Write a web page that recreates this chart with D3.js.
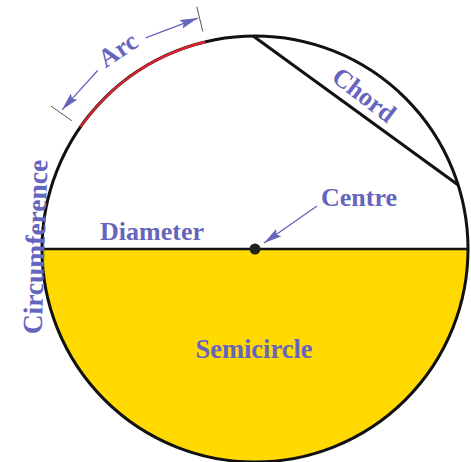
<!DOCTYPE html>
<html>
<head>
<meta charset="utf-8">
<script src="https://cdn.jsdelivr.net/npm/d3@7"></script>
<style>
  body { margin: 0; background: #fff; }
  text { font-family: "Liberation Serif", "Times New Roman", serif; font-weight: bold; fill: #6565bd; }
</style>
</head>
<body>
<div id="chart"></div>
<script>
// circle parts, angles in degrees (d3 convention: 0 = 12 o'clock, clockwise)
const labels = ["Arc", "Chord", "Circumference", "Diameter", "Centre", "Semicircle"];
const semicircleAngles = [90, 270];
const diameterAngles = [-90, 90];
const arcAngles = [-55, -13.5];
const chordAngles = [-0.5, 72.5];
// dimension line around the arc (radius in units of circle radius)
const dimTickRadii = [1.05, 1.17];
const dimArrowRadius = 1.117;
const dimArrows = [[-41.4, -54.2], [-27.4, -13.9]];

const width = 471, height = 462;
const cx = 255, cy = 249, R = 213;
const blue = "#6565bd";

const r = d3.scaleLinear().domain([0, 1]).range([0, R]);
const rad = d => d * Math.PI / 180;
const pt = (a, u) => [cx + r(u) * Math.sin(rad(a)), cy - r(u) * Math.cos(rad(a))];

const svg = d3.select("#chart").append("svg")
  .attr("width", width)
  .attr("height", height);

const defs = svg.append("defs");
defs.append("marker")
  .attr("id", "head")
  .attr("viewBox", "0 0 18 9")
  .attr("refX", 18).attr("refY", 4.5)
  .attr("markerWidth", 18).attr("markerHeight", 9)
  .attr("markerUnits", "userSpaceOnUse")
  .attr("orient", "auto")
  .append("path")
  .attr("d", "M0,0 L18,4.5 L0,9 L3,4.5 Z")
  .attr("fill", blue);

const g = svg.append("g").attr("transform", `translate(${cx},${cy})`);

// yellow semicircle
g.append("path")
  .attr("d", d3.arc().innerRadius(0).outerRadius(r(1))
    .startAngle(rad(semicircleAngles[0])).endAngle(rad(semicircleAngles[1]))())
  .attr("fill", "#ffd900");

// circumference
g.append("circle")
  .attr("r", r(1))
  .attr("fill", "none")
  .attr("stroke", "#111")
  .attr("stroke-width", 3);

// red arc
const arcPath = d3.path();
arcPath.arc(0, 0, r(1), rad(arcAngles[0] - 90), rad(arcAngles[1] - 90));
g.append("path")
  .attr("d", arcPath.toString())
  .attr("fill", "none")
  .attr("stroke", "#e3222b")
  .attr("stroke-width", 2.2);

// diameter
const d0 = pt(diameterAngles[0], 1), d1 = pt(diameterAngles[1], 1);
svg.append("line")
  .attr("x1", d0[0]).attr("y1", d0[1])
  .attr("x2", d1[0]).attr("y2", d1[1])
  .attr("stroke", "#111")
  .attr("stroke-width", 2.5);

// chord
const c0 = pt(chordAngles[0], 1), c1 = pt(chordAngles[1], 1);
svg.append("line")
  .attr("x1", c0[0]).attr("y1", c0[1])
  .attr("x2", c1[0]).attr("y2", c1[1])
  .attr("stroke", "#111")
  .attr("stroke-width", 3);

// centre dot
svg.append("circle")
  .attr("cx", cx).attr("cy", cy)
  .attr("r", 5.5)
  .attr("fill", "#1c261c");

// arc dimension ticks
arcAngles.forEach(a => {
  const p0 = pt(a, dimTickRadii[0]), p1 = pt(a, dimTickRadii[1]);
  svg.append("line")
    .attr("x1", p0[0]).attr("y1", p0[1])
    .attr("x2", p1[0]).attr("y2", p1[1])
    .attr("stroke", "#555")
    .attr("stroke-width", 1);
});

// arc dimension arrows
dimArrows.forEach(([a0, a1]) => {
  const p0 = pt(a0, dimArrowRadius), p1 = pt(a1, dimArrowRadius);
  svg.append("line")
    .attr("x1", p0[0]).attr("y1", p0[1])
    .attr("x2", p1[0]).attr("y2", p1[1])
    .attr("stroke", blue)
    .attr("stroke-width", 1.3)
    .attr("marker-end", "url(#head)");
});

// centre arrow
svg.append("line")
  .attr("x1", 317).attr("y1", 206)
  .attr("x2", 264).attr("y2", 243)
  .attr("stroke", blue)
  .attr("stroke-width", 1.3)
  .attr("marker-end", "url(#head)");

// labels
const layout = [
  { x: 118, y: 50, rot: -34, size: 26 },
  { x: 364, y: 95, rot: 37.6, size: 26 },
  { x: 35, y: 247, rot: -88, size: 27.5 },
  { x: 152, y: 231, rot: 0, size: 26 },
  { x: 359, y: 197, rot: 0, size: 26 },
  { x: 254, y: 349, rot: 0, size: 26.5 }
];
svg.selectAll("text.lbl")
  .data(labels)
  .enter()
  .append("text")
  .attr("class", "lbl")
  .attr("transform", (d, i) => `translate(${layout[i].x},${layout[i].y}) rotate(${layout[i].rot})`)
  .attr("text-anchor", "middle")
  .attr("dominant-baseline", "central")
  .style("font-size", (d, i) => layout[i].size + "px")
  .text(d => d);
</script>
</body>
</html>
